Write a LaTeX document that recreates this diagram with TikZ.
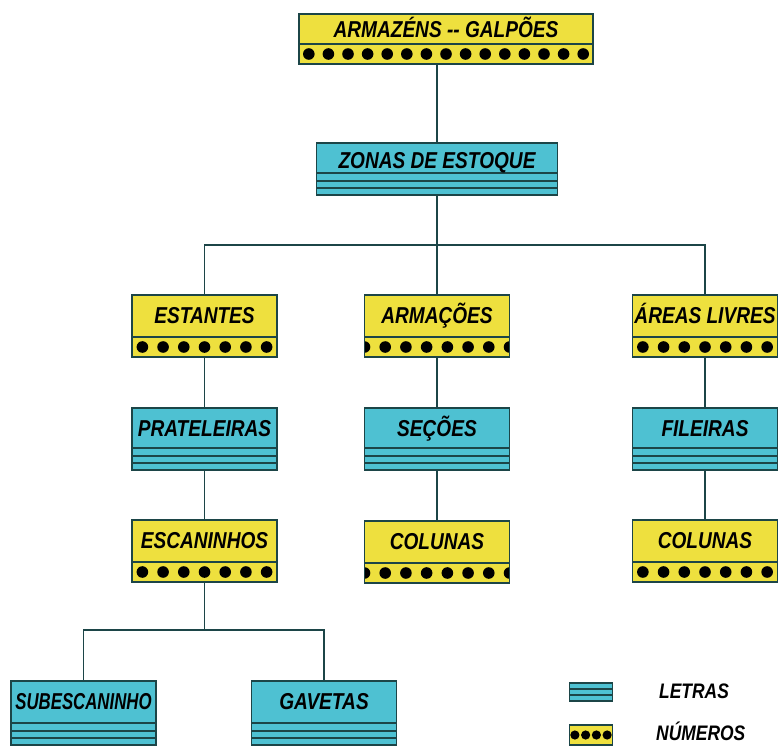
\documentclass[tikz,border=0pt]{standalone}
\usepackage{fontspec}
\setmainfont{Liberation Sans}
\newfontfamily\boxfont[FakeStretch=0.83]{Liberation Sans}
\usetikzlibrary{calc,positioning}
\definecolor{boxyellow}{HTML}{EEE03E}
\definecolor{boxcyan}{HTML}{4EC1D2}
\definecolor{edge}{HTML}{1C4547}
\tikzset{
	boxbase/.style={draw=edge,line width=1.6pt,minimum width=145pt,inner sep=0pt,
		text height=28.5pt,text depth=33.5pt,
		font=\boxfont\fontsize{23}{23}\selectfont\bfseries\itshape},
	% yellow box, row of dots below the text
	numbox/.style={boxbase,fill=boxyellow,
		path picture={
			\draw[edge,line width=1.2pt] ($(path picture bounding box.south west)+(0,20pt)$) -- ($(path picture bounding box.south east)+(0,20pt)$);
			\foreach \k in {1,...,#1}
				\fill[black] ($(path picture bounding box.south west)!{(\k-0.5)/#1}!(path picture bounding box.south east)+(0,10pt)$) circle (5.8pt);
		}},
	% same, dots cut at both ends
	numboxcut/.style={boxbase,fill=boxyellow,
		path picture={
			\draw[edge,line width=1.2pt] ($(path picture bounding box.south west)+(0,20pt)$) -- ($(path picture bounding box.south east)+(0,20pt)$);
			\foreach \k in {1,...,#1}
				\fill[black] ($(path picture bounding box.south west)!{(\k-1)/(#1-1)}!(path picture bounding box.south east)+(0,10pt)$) circle (5.8pt);
		}},
	% cyan box, stripes below the text
	letbox/.style={boxbase,fill=boxcyan,
		path picture={
			\foreach \h in {22,14,7}
				\draw[edge,line width=1.2pt] ($(path picture bounding box.south west)+(0,\h pt)$) -- ($(path picture bounding box.south east)+(0,\h pt)$);
		}},
	link/.style={draw=edge,line width=1.8pt},
	keytext/.style={anchor=west,inner sep=0pt,font=\boxfont\fontsize{21}{21}\selectfont\bfseries\itshape}
}

\begin{document}
\begin{tikzpicture}[x=1pt,y=-1pt]
	\useasboundingbox (0,0) rectangle (778,747);

	\node[numbox=15,minimum width=294pt,text height=23.5pt,text depth=26.5pt] (top) at (446,39) {ARMAZÉNS -{}- GALPÕES};
	\node[letbox,minimum width=241pt,text height=25pt,text depth=27pt] (zonas) at (437,169) {ZONAS DE ESTOQUE};

	\node[numbox=7] (estantes) at (204.5,326) {ESTANTES};
	\node[numboxcut=8] (armacoes) at (437,326) {ARMAÇÕES};
	\node[numbox=7] (areas) at (705,326) {ÁREAS LIVRES};

	\node[letbox] (prateleiras) at (204.5,439) {PRATELEIRAS};
	\node[letbox] (secoes) at (437,439) {SEÇÕES};
	\node[letbox] (fileiras) at (705,439) {FILEIRAS};

	\node[numbox=7] (escaninhos) at (204.5,551) {ESCANINHOS};
	\node[numboxcut=8] (colunasa) at (437,552) {COLUNAS};
	\node[numbox=7] (colunasb) at (705,551) {COLUNAS};

	\node[letbox,text depth=35.5pt] (subesc) at (83.5,713) {\scalebox{0.88}[1]{SUBESCANINHO}};
	\node[letbox,text depth=35.5pt] (gavetas) at (324,713) {GAVETAS};

	\coordinate (j1) at (437,245);
	\coordinate (j2) at (204.5,630);

	\draw[link] (zonas.north) -- (zonas.north |- top.south);
	\draw[link] (zonas.south) -- (j1);
	\draw[link] (estantes.north) |- (j1) -| (areas.north);
	\draw[link] (armacoes.north) -- (j1);
	\draw[link] (estantes.south) -- (prateleiras.north);
	\draw[link] (prateleiras.south) -- (escaninhos.north);
	\draw[link] (armacoes.south) -- (secoes.north);
	\draw[link] (secoes.south) -- (colunasa.north);
	\draw[link] (areas.south) -- (fileiras.north);
	\draw[link] (fileiras.south) -- (colunasb.north);
	\draw[link] (escaninhos.south) -- (j2);
	\draw[link] (subesc.north) |- (j2) -| (gavetas.north);

	% legenda
	\node[boxbase,fill=boxcyan,minimum width=43pt,minimum height=18pt,text height=0pt,text depth=0pt,
		path picture={
			\foreach \h in {6,12}
				\draw[edge,line width=1.2pt] ($(path picture bounding box.south west)+(0,\h pt)$) -- ($(path picture bounding box.south east)+(0,\h pt)$);
		}] (keylet) at (591,692) {};
	\node[boxbase,fill=boxyellow,minimum width=43pt,minimum height=20pt,text height=0pt,text depth=0pt,
		path picture={
			\foreach \k in {1,...,4}
				\fill[black] ($(path picture bounding box.south west)!{(\k-0.5)/4}!(path picture bounding box.south east)+(0,10pt)$) circle (4.6pt);
		}] (keynum) at (591,735) {};
	\node[keytext] (keylettxt) at (659,691) {LETRAS};
	\node[keytext] (keynumtxt) at (656,731) {NÚMEROS};
\end{tikzpicture}
\end{document}
